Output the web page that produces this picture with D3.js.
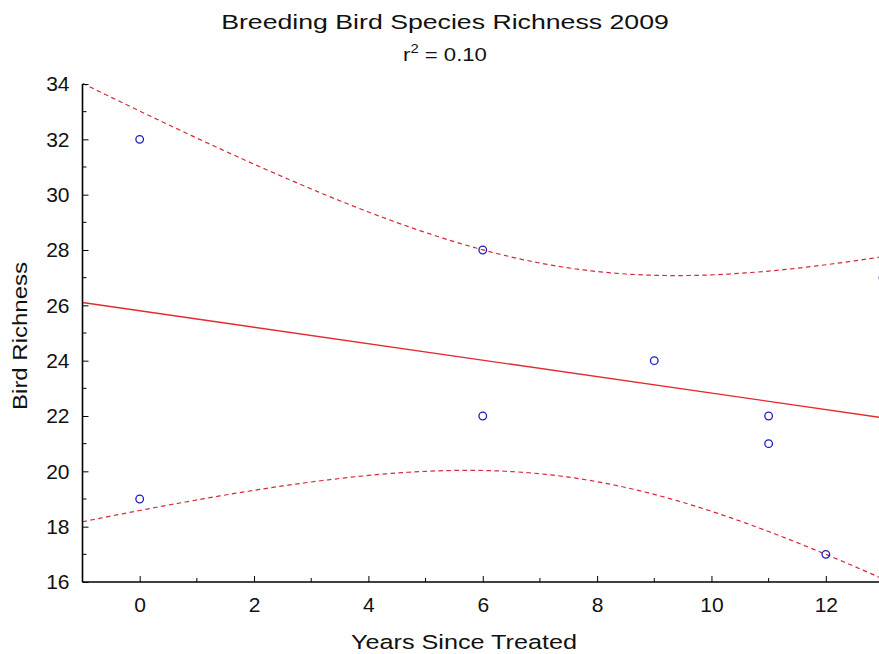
<!DOCTYPE html>
<html><head><meta charset="utf-8">
<script src="https://cdn.jsdelivr.net/npm/d3@7"></script>
<style>body{margin:0;background:#fff;overflow:hidden}svg{display:block;font-family:"Liberation Sans",Arial,sans-serif}</style>
</head><body>
<svg id="c" width="879" height="654"></svg>
<script>
const yearsSinceTreated = [0, 0, 6, 6, 9, 11, 11, 12, 13];
const birdRichness      = [32, 19, 28, 22, 24, 22, 21, 17, 27];
const xTicks = [0, 2, 4, 6, 8, 10, 12];
const yTicks = [16, 18, 20, 22, 24, 26, 28, 30, 32, 34];
const tCrit = 2.365; // t(0.975, df=7)

const svg = d3.select("#c");
const m = {left: 82.5, right: 883, top: 84, bottom: 582};
const x = d3.scaleLinear().domain([-1, 13]).range([m.left, m.right]);
const y = d3.scaleLinear().domain([16, 34]).range([m.bottom, m.top]);
const STR = 1.23; // horizontal stretch of the reference's lettering

svg.append("defs").append("clipPath").attr("id","clip")
  .append("rect").attr("x", m.left).attr("y", m.top - 2).attr("width", m.right - m.left).attr("height", m.bottom - m.top + 2);

// regression from the data points
const pts = yearsSinceTreated.map((v,i)=>({x:v, y:birdRichness[i]}));
const n = pts.length;
const mx = d3.mean(pts, d=>d.x), my = d3.mean(pts, d=>d.y);
const sxx = d3.sum(pts, d=>(d.x-mx)**2);
const sxy = d3.sum(pts, d=>(d.x-mx)*(d.y-my));
const slope = sxy/sxx, icpt = my - slope*mx;
const sse = d3.sum(pts, d=>(d.y-(icpt+slope*d.x))**2);
const s = Math.sqrt(sse/(n-2));
const fit = xv => icpt + slope*xv;
const half = xv => tCrit * s * Math.sqrt(1/n + (xv-mx)**2/sxx);
const xs = d3.range(-1, 13.001, 0.1);

const g = svg.append("g").attr("clip-path","url(#clip)");
g.append("path").datum([-1,13]).attr("fill","none").attr("stroke","#e42a30").attr("stroke-width",1.4)
  .attr("d", d3.line().x(d=>x(d)).y(d=>y(fit(d))));
[1,-1].forEach(sg=>{
  g.append("path").datum(xs).attr("fill","none").attr("stroke","#d42838").attr("stroke-width",1.2)
   .attr("stroke-dasharray","4.5,3.5")
   .attr("d", d3.line().x(d=>x(d)).y(d=>y(fit(d)+sg*half(d))));
});
svg.append("g").selectAll("circle").data(pts).join("circle")
  .attr("cx", d=>x(d.x)).attr("cy", d=>y(d.y)).attr("r", 3.8)
  .attr("fill","none").attr("stroke","#1c1cc0").attr("stroke-width",1.3);

// axes
const xa = svg.append("g").attr("transform",`translate(0,${m.bottom})`)
  .call(d3.axisBottom(x).tickValues(xTicks).tickSize(-6).tickPadding(0).tickFormat(d3.format("d")));
xa.select(".domain").attr("d", `M${m.left},0H${m.right}`).attr("stroke-width",1.6);
xa.selectAll("text").attr("font-size",21).attr("fill","#111").attr("y",30).attr("dy",null);
xa.selectAll(".minor").data(d3.range(-1,14,2)).join("line").attr("class","minor")
  .attr("x1",d=>x(d)).attr("x2",d=>x(d)).attr("y1",0).attr("y2",-4).attr("stroke","#000");

const ya = svg.append("g").attr("transform",`translate(${m.left},0)`)
  .call(d3.axisLeft(y).tickValues(yTicks).tickSize(-6).tickPadding(13).tickFormat(d3.format("d")));
ya.select(".domain").attr("d", `M0,${m.top}V${m.bottom}`).attr("stroke-width",1.6);
ya.selectAll("text").attr("font-size",21).attr("fill","#111").attr("x",-13);
ya.selectAll(".minor").data(d3.range(17,34,2)).join("line").attr("class","minor")
  .attr("x1",0).attr("x2",4).attr("y1",d=>y(d)).attr("y2",d=>y(d)).attr("stroke","#000");

// labels
svg.append("text").attr("transform",`translate(445,29) scale(1.27,1)`).attr("text-anchor","middle")
  .attr("font-size",21).attr("fill","#111").text("Breeding Bird Species Richness 2009");
const r2 = svg.append("text").attr("transform",`translate(445,61) scale(${STR},1)`).attr("text-anchor","middle")
  .attr("font-size",18).attr("fill","#111");
r2.append("tspan").text("r");
r2.append("tspan").attr("font-size",12).attr("dy",-8).text("2");
r2.append("tspan").attr("dy",8).text(" = 0.10");
svg.append("text").attr("transform",`translate(464,649) scale(${STR},1)`).attr("text-anchor","middle")
  .attr("font-size",20.5).attr("fill","#111").text("Years Since Treated");
svg.append("text").attr("transform",`translate(27,336) rotate(-90) scale(${STR},1)`).attr("text-anchor","middle")
  .attr("font-size",19.5).attr("fill","#111").text("Bird Richness");
</script>
</body></html>
